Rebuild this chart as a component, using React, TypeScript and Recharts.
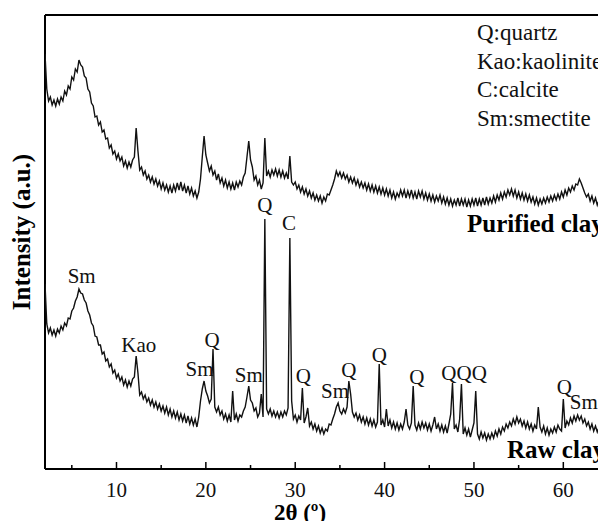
import { Line, LineChart, ReferenceDot, ReferenceLine, XAxis, YAxis } from 'recharts';

const SERIF = "'Liberation Serif', 'Times New Roman', Times, serif";

// XRD intensity (a.u.), one value every 0.2° of 2θ from 2° to 65°; five values per row = one degree
const purifiedClay = [
    415, 380, 368, 372, 364, // 2
    369, 363, 370, 365, 372,
    368, 378, 374, 383, 380,
    392, 389, 400, 397, 409,
    404, 402, 393, 391, 380,
    377, 366, 363, 352, 353,
    344, 347, 337, 339, 330,
    331, 321, 324, 315, 318,
    310, 315, 308, 312, 303, // 10
    308, 301, 307, 302, 309,
    312, 341, 318, 299, 302,
    294, 298, 290, 294, 287,
    292, 285, 290, 283, 288,
    280, 286, 279, 284, 277,
    283, 276, 284, 278, 286,
    279, 287, 278, 284, 276,
    283, 275, 281, 273, 278,
    271, 277, 290, 312, 333,
    314, 306, 298, 303, 294, // 20
    298, 289, 295, 286, 291,
    283, 289, 281, 287, 280,
    286, 279, 287, 282, 288,
    284, 292, 296, 312, 328,
    309, 302, 289, 293, 284,
    289, 280, 286, 331, 293,
    298, 292, 299, 294, 300,
    293, 299, 292, 298, 291,
    296, 290, 313, 287, 284,
    287, 280, 284, 277, 282, // 30
    275, 280, 273, 278, 271,
    276, 269, 274, 268, 273,
    266, 272, 268, 275, 274,
    279, 284, 290, 298, 293,
    297, 291, 296, 290, 294,
    287, 292, 286, 291, 284,
    289, 282, 287, 281, 286,
    279, 285, 278, 284, 277,
    283, 276, 282, 275, 281,
    274, 280, 273, 279, 271, // 40
    277, 270, 276, 272, 279,
    273, 279, 271, 278, 272,
    279, 271, 277, 270, 278,
    272, 278, 270, 276, 269,
    275, 268, 274, 267, 273,
    268, 274, 266, 272, 265,
    271, 264, 270, 263, 269,
    264, 271, 263, 270, 264,
    270, 262, 269, 263, 270,
    264, 271, 263, 270, 264, // 50
    271, 264, 272, 265, 271,
    266, 273, 267, 274, 269,
    276, 270, 277, 272, 279,
    274, 280, 273, 279, 271,
    277, 270, 276, 269, 275,
    268, 274, 267, 272, 265,
    271, 264, 270, 265, 271,
    266, 272, 267, 273, 268,
    274, 269, 275, 270, 277,
    272, 279, 274, 281, 277, // 60
    283, 279, 285, 284, 290,
    286, 281, 276, 272, 275,
    268, 273, 266, 271, 264,
    269, 263, 268, 262, 266,
    264, // 65
];

const rawClay = [
    185, 145, 136, 141, 134, // 2
    139, 133, 140, 136, 143,
    139, 146, 143, 151, 150,
    158, 161, 168, 172, 180,
    176, 175, 169, 166, 158,
    154, 146, 143, 133, 132,
    124, 124, 115, 117, 108,
    110, 102, 105, 96, 99,
    91, 95, 88, 92, 84, // 10
    89, 82, 88, 83, 90,
    92, 113, 96, 74, 77,
    70, 74, 67, 71, 64,
    69, 62, 67, 60, 65,
    58, 63, 56, 62, 54,
    60, 52, 58, 51, 57,
    49, 55, 48, 54, 46,
    53, 45, 51, 44, 50,
    42, 52, 68, 80, 88,
    78, 73, 66, 70, 120, // 20
    62, 57, 62, 54, 58,
    50, 55, 48, 54, 47,
    78, 49, 55, 48, 54,
    52, 58, 62, 72, 83,
    69, 66, 58, 61, 52,
    56, 75, 52, 250, 60,
    55, 60, 53, 58, 52,
    57, 51, 57, 52, 58,
    54, 61, 231, 68, 50,
    54, 47, 53, 49, 81, // 30
    46, 52, 61, 43, 47,
    40, 45, 38, 43, 36,
    41, 35, 40, 38, 45,
    44, 50, 55, 62, 66,
    58, 55, 60, 56, 62,
    88, 75, 57, 52, 56,
    49, 54, 47, 52, 45,
    51, 44, 50, 43, 49,
    42, 47, 105, 44, 49,
    42, 60, 43, 49, 41, // 40
    47, 40, 46, 39, 45,
    40, 47, 60, 44, 40,
    46, 83, 44, 39, 46,
    40, 47, 41, 46, 39,
    45, 38, 44, 52, 40,
    45, 38, 44, 37, 43,
    36, 45, 55, 86, 40,
    44, 37, 50, 85, 35,
    41, 34, 40, 32, 39,
    46, 78, 35, 30, 37, // 50
    31, 36, 29, 35, 30,
    36, 31, 38, 33, 40,
    35, 42, 38, 45, 41,
    47, 43, 50, 45, 52,
    46, 50, 43, 48, 41,
    47, 40, 45, 38, 44,
    40, 62, 42, 37, 43,
    35, 41, 34, 40, 36,
    42, 37, 44, 40, 38,
    70, 41, 48, 44, 51, // 60
    46, 53, 48, 54, 49,
    53, 46, 50, 43, 47,
    40, 45, 38, 43, 37,
    42, 35, 40, 34, 38,
    36, // 65
];

const twoTheta = rawClay.map((_, i) => Math.round((2 + i * 0.2) * 10) / 10);

const xTicks = [5, 10, 15, 20, 25, 30, 35, 40, 45, 50, 55, 60, 65];
const phaseKey = ['Q:quartz', 'Kao:kaolinite', 'C:calcite', 'Sm:smectite'];

// peak annotations: text, 2θ and intensity of the text baseline
const peakText = ['Sm', 'Kao', 'Q', 'Sm', 'Sm', 'Q', 'C', 'Q', 'Sm', 'Q', 'Q', 'Q', 'Q', 'Q', 'Q', 'Q', 'Sm'];
const peakTheta = [6.1, 12.5, 20.7, 19.3, 24.8, 26.6, 29.3, 30.9, 34.45, 36.0, 39.4, 43.6, 47.2, 48.9, 50.6, 60.1, 62.3];
const peakHeight = [186, 117, 122, 93, 87, 257, 239, 86, 71, 92, 107, 85, 89, 89, 89, 75, 60];

const data = twoTheta.map((t, i) => ({
    t,
    purified: purifiedClay[i],
    raw: rawClay[i],
}));

function AxisTick({ x, y, payload }: { x: number; y: number; payload: { value: number } }) {
    const major = payload.value % 10 === 0;
    return (
        <g>
            <line x1={x} x2={x} y1={y} y2={y - (major ? 7 : 4)} stroke="#000" strokeWidth={1.5} />
            {major && (
                <text x={x} y={y + 28} textAnchor="middle" fontSize={21} fontFamily={SERIF} fill="#111">
                    {payload.value}
                </text>
            )}
        </g>
    );
}

export default function App() {
    return (
        <div style={{ width: 598, height: 521, overflow: 'hidden', marginBottom: -8 }}>
            <LineChart
                width={600}
                height={521}
                data={data}
                margin={{ top: 7, right: 0, bottom: 0, left: 37 }}
                style={{ fontFamily: SERIF }}
            >
                <XAxis
                    dataKey="t"
                    type="number"
                    domain={[2, 65]}
                    allowDataOverflow
                    ticks={xTicks}
                    interval={0}
                    height={60}
                    tickSize={0}
                    tickMargin={0}
                    tickLine={false}
                    axisLine={{ stroke: '#000', strokeWidth: 2 }}
                    tick={AxisTick}
                />
                <YAxis type="number" domain={[0, 454]} hide />
                <ReferenceLine x={2} stroke="#000" strokeWidth={2} />
                <ReferenceLine y={454} stroke="#000" strokeWidth={2} />
                <Line
                    type="linear"
                    dataKey="purified"
                    stroke="#111"
                    strokeWidth={1.4}
                    dot={false}
                    isAnimationActive={false}
                />
                <Line
                    type="linear"
                    dataKey="raw"
                    stroke="#111"
                    strokeWidth={1.4}
                    dot={false}
                    isAnimationActive={false}
                />
                {peakText.map((label, i) => (
                    <ReferenceDot
                        key={i}
                        x={peakTheta[i]}
                        y={peakHeight[i]}
                        r={1}
                        shape={(p: { cx: number; cy: number }) => (
                            <text x={p.cx} y={p.cy} textAnchor="middle" fontSize={21} fontFamily={SERIF} fill="#111">
                                {label}
                            </text>
                        )}
                    />
                ))}
                {phaseKey.map((label, i) => (
                    <text key={label} x={469} y={32 + i * 28.5} fontSize={23} fontFamily={SERIF} fill="#111">
                        {label}
                    </text>
                ))}
                <text x={459} y={224} fontSize={25} fontWeight="bold" fontFamily={SERIF} fill="#000">
                    Purified clay
                </text>
                <text x={499} y={450} fontSize={25} fontWeight="bold" fontFamily={SERIF} fill="#000">
                    Raw clay
                </text>
                <text x={292} y={512} textAnchor="middle" fontSize={23} fontWeight="bold" fontFamily={SERIF} fill="#000">
                    2θ (º)
                </text>
                <text
                    x={22}
                    y={224}
                    textAnchor="middle"
                    fontSize={25}
                    fontWeight="bold"
                    fontFamily={SERIF}
                    fill="#000"
                    transform="rotate(-90, 22, 224)"
                >
                    Intensity (a.u.)
                </text>
            </LineChart>
        </div>
    );
}
